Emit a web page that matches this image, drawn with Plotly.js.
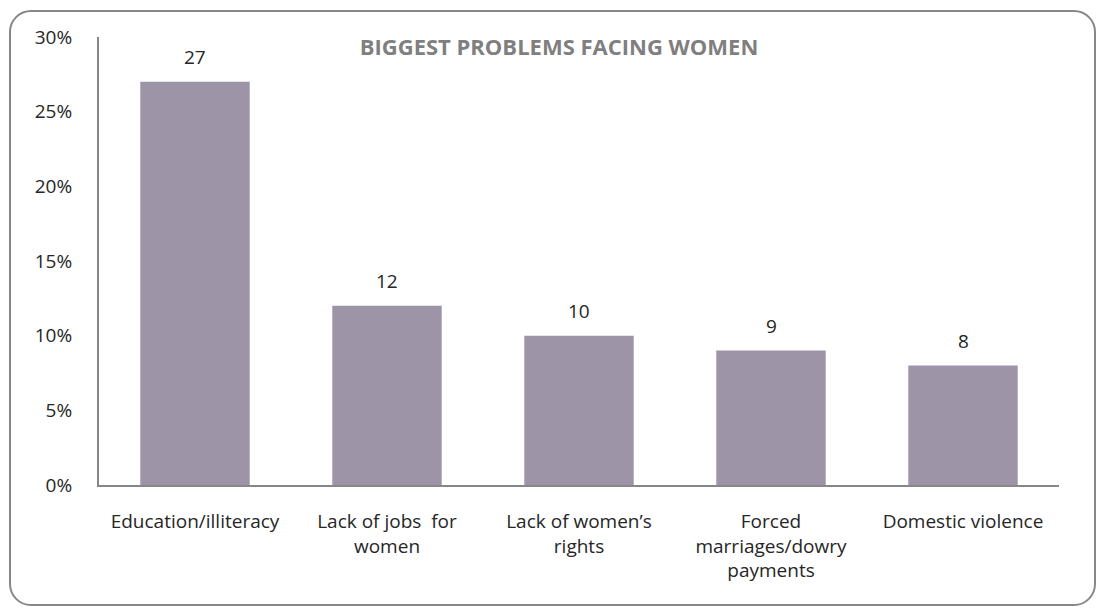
<!DOCTYPE html>
<html>
<head>
<meta charset="utf-8">
<script src="https://cdn.plot.ly/plotly-3.0.1.min.js"></script>
<style>
html,body{margin:0;padding:0;background:#fff;}
#frame{position:absolute;left:9px;top:10px;width:1083px;height:592px;border:2px solid #878787;border-radius:22px;}
#chart{position:absolute;left:0;top:0;width:1098px;height:610px;}
</style>
</head>
<body>
<div id="frame"></div>
<div id="chart"></div>
<script>
const categories = ["Education/illiteracy", "Lack of jobs  for<br>women", "Lack of women\u2019s<br>rights", "Forced<br>marriages/dowry<br>payments", "Domestic violence"];
const values = [27, 12, 10, 9, 8];
const yTickVals = [0, 5, 10, 15, 20, 25, 30];
const yTickText = ["0%", "5%", "10%", "15%", "20%", "25%", "30%"];
const titleText = "BIGGEST PROBLEMS FACING WOMEN";

const FONT = "Open Sans, Noto Sans, sans-serif";

const trace = {
  type: "bar",
  x: categories,
  y: values,
  marker: {color: "#9e94a8"},
  width: 0.57,
  hoverinfo: "none"
};

const annotations = categories.map((c, i) => ({
  x: c, y: values[i], xref: "x", yref: "y",
  text: String(values[i]), showarrow: false,
  yanchor: "bottom", yshift: 10,
  font: {family: FONT, size: 19, color: "#262626"}
}));

const layout = {
  width: 1098, height: 610,
  margin: {l: 99, r: 39, t: 37, b: 125},
  paper_bgcolor: "rgba(0,0,0,0)",
  plot_bgcolor: "rgba(0,0,0,0)",
  showlegend: false,
  title: {
    text: "<b>" + titleText + "</b>",
    x: 559/1098, xanchor: "center", xref: "container",
    y: 1 - 47/610, yanchor: "middle", yref: "container",
    font: {family: FONT, size: 22, color: "#7f7f7f"}
  },
  xaxis: {
    type: "category",
    showline: true, linecolor: "#878787", linewidth: 2,
    showgrid: false, ticks: "",
    ticklabelstandoff: 18,
    tickfont: {family: FONT, size: 19, color: "#262626"},
    fixedrange: true
  },
  yaxis: {
    range: [0, 30],
    tickvals: yTickVals, ticktext: yTickText,
    showline: true, linecolor: "#878787", linewidth: 2,
    showgrid: false, zeroline: false, ticks: "",
    ticklabelstandoff: 21,
    tickfont: {family: FONT, size: 19, color: "#262626"},
    fixedrange: true
  },
  annotations: annotations,
  bargap: 0.43
};

Plotly.newPlot("chart", [trace], layout, {displayModeBar: false, staticPlot: true});
</script>
</body>
</html>
